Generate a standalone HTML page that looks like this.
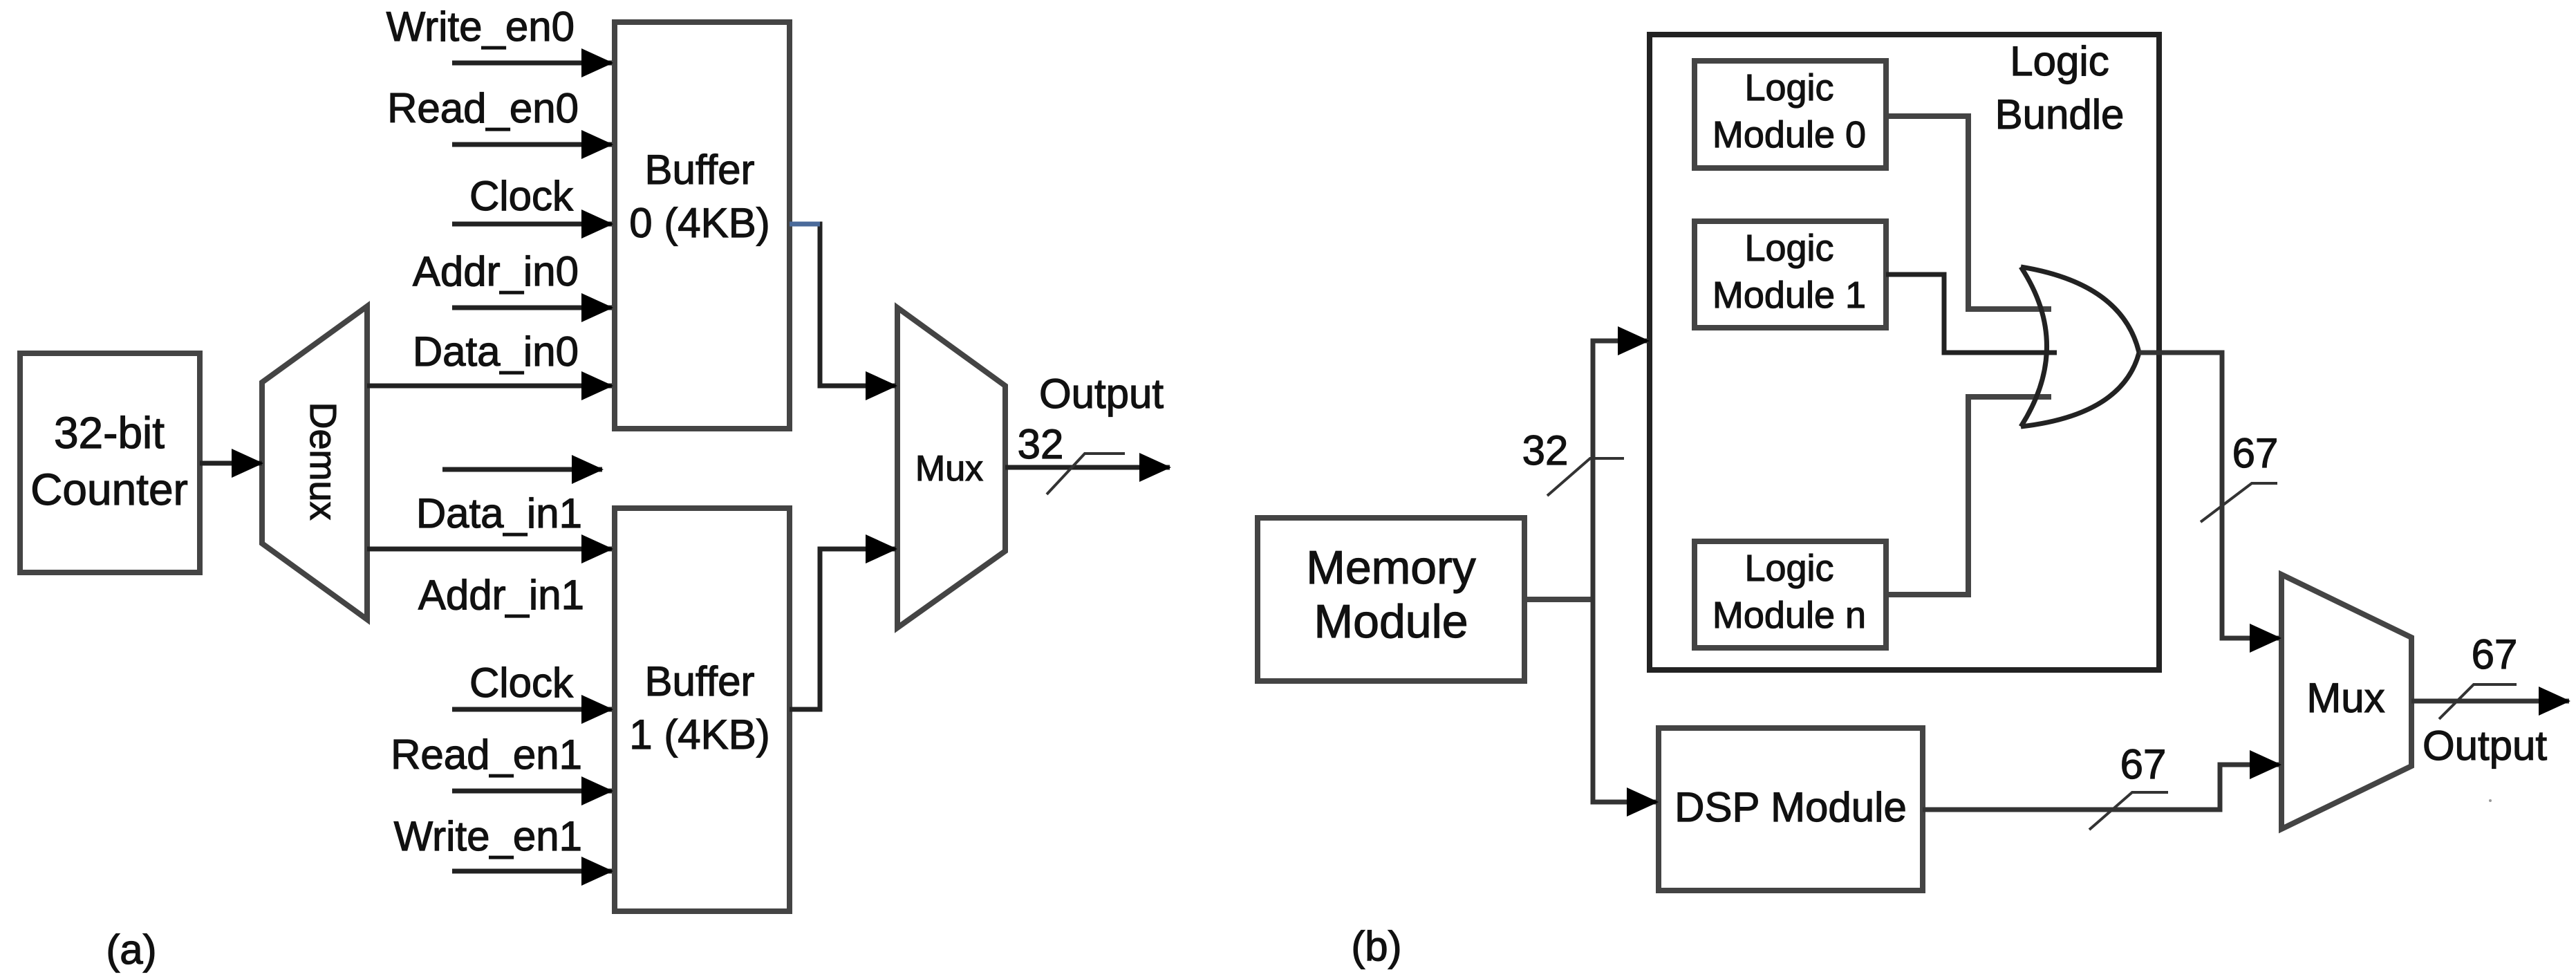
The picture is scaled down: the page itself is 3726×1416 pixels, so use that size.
<!DOCTYPE html>
<html><head><meta charset="utf-8"><style>html,body{margin:0;padding:0;background:#fff}svg{display:block}text{font-family:"Liberation Sans",sans-serif;fill:#111;stroke:#111;stroke-width:1.2}</style></head><body>
<svg width="3726" height="1416" viewBox="0 0 3726 1416" xmlns="http://www.w3.org/2000/svg">
<defs><marker id="a" markerUnits="userSpaceOnUse" markerWidth="46" markerHeight="42" refX="44" refY="21" orient="auto"><path d="M0,0 L46,21 L0,42 z" fill="#000"/></marker></defs>
<g fill="none" stroke="#444" stroke-width="8">
<rect x="29" y="511" width="260" height="317"/>
<polygon points="379,553 531,443 531,896 379,786"/>
<rect x="889" y="32" width="253" height="588"/>
<rect x="889" y="735" width="253" height="583"/>
<polygon points="1298,445 1454,558 1454,797 1298,908"/>
</g>
<g fill="none" stroke="#222" stroke-width="7" marker-end="url(#a)">
<line x1="289" y1="670" x2="379" y2="670"/>
<line x1="654" y1="91" x2="885" y2="91"/>
<line x1="654" y1="209" x2="885" y2="209"/>
<line x1="654" y1="324" x2="885" y2="324"/>
<line x1="654" y1="445" x2="885" y2="445"/>
<line x1="531" y1="558" x2="885" y2="558"/>
<line x1="640" y1="679" x2="871" y2="679"/>
<line x1="531" y1="794" x2="885" y2="794"/>
<line x1="654" y1="1026" x2="885" y2="1026"/>
<line x1="654" y1="1144" x2="885" y2="1144"/>
<line x1="654" y1="1260" x2="885" y2="1260"/>
<polyline points="1142,324 1186,324 1186,558 1296,558"/>
<polyline points="1142,1026 1186,1026 1186,794 1296,794"/>
<line x1="1454" y1="676" x2="1692" y2="676"/>
</g>
<line x1="1142" y1="324" x2="1186" y2="324" stroke="#4a6a9a" stroke-width="7"/>
<g stroke="#333" stroke-width="4" fill="none"><polyline points="1514,715 1569,656 1627,656"/></g>
<g font-size="60" text-anchor="end">
<text x="831" y="59">Write_en0</text>
<text x="837" y="177">Read_en0</text>
<text x="829" y="304">Clock</text>
<text x="837" y="413">Addr_in0</text>
<text x="837" y="529">Data_in0</text>
<text x="842" y="763">Data_in1</text>
<text x="845" y="881">Addr_in1</text>
<text x="829" y="1008">Clock</text>
<text x="842" y="1112">Read_en1</text>
<text x="842" y="1230">Write_en1</text>
</g>
<g font-size="60" text-anchor="middle">
<text x="158" y="648" font-size="64">32-bit</text>
<text x="158" y="730" font-size="64">Counter</text>
<text x="1012" y="266">Buffer</text>
<text x="1012" y="343">0 (4KB)</text>
<text x="1012" y="1006">Buffer</text>
<text x="1012" y="1083">1 (4KB)</text>
<text x="1373" y="695" font-size="52">Mux</text>
<text transform="translate(449,667) rotate(90)" font-size="54">Demux</text>
<text x="1593" y="590">Output</text>
<text x="1505" y="663">32</text>
<text x="190" y="1394">(a)</text>
</g>
<g fill="none" stroke="#444" stroke-width="8">
<rect x="2386" y="50" width="737" height="919" stroke="#222"/>
<rect x="2451" y="88" width="277" height="155"/>
<rect x="2451" y="320" width="277" height="154"/>
<rect x="2451" y="783" width="277" height="154"/>
<rect x="1819" y="749" width="386" height="236"/>
<rect x="2399" y="1053" width="382" height="235"/>
<polygon points="3300,831 3488,922 3488,1108 3300,1199"/>
<polyline points="2728,168 2847,168 2847,447 2967,447"/>
<polyline points="2728,860 2847,860 2847,574 2967,574"/>
<line x1="2205" y1="867" x2="2304" y2="867"/>
</g>
<g fill="none" stroke="#222" stroke-width="7">
<polyline points="2728,397 2812,397 2812,510 2975,510"/>
<path d="M2923,386 Q2998,500 2923,617"/>
<path d="M2923,386 Q3070,410 3094,510 Q3070,600 2923,617"/>
</g>
<g fill="none" stroke="#333" stroke-width="7" marker-end="url(#a)">
<polyline points="3094,510 3214,510 3214,923 3298,923"/>
<polyline points="2304,867 2304,493 2384,493"/>
<polyline points="2304,867 2304,1160 2397,1160"/>
<polyline points="2781,1171 3211,1171 3211,1106 3298,1106"/>
<line x1="3488" y1="1014" x2="3716" y2="1014"/>
</g>
<g stroke="#333" stroke-width="4" fill="none">
<polyline points="2238,717 2300,663 2349,663"/>
<polyline points="3183,755 3257,699 3294,699"/>
<polyline points="3022,1200 3084,1146 3136,1146"/>
<polyline points="3528,1040 3578,990 3640,990"/>
</g>
<g font-size="60" text-anchor="middle">
<text x="2979" y="109">Logic</text>
<text x="2979" y="186">Bundle</text>
<text x="2588" y="145" font-size="54">Logic</text>
<text x="2588" y="213" font-size="54">Module 0</text>
<text x="2588" y="377" font-size="54">Logic</text>
<text x="2588" y="445" font-size="54">Module 1</text>
<text x="2588" y="840" font-size="54">Logic</text>
<text x="2588" y="908" font-size="54">Module n</text>
<text x="2012" y="844" font-size="68">Memory</text>
<text x="2012" y="922" font-size="68">Module</text>
<text x="2590" y="1188">DSP Module</text>
<text x="3393" y="1030">Mux</text>
<text x="2235" y="672">32</text>
<text x="3262" y="676">67</text>
<text x="3100" y="1126">67</text>
<text x="3608" y="967">67</text>
<text x="3594" y="1099">Output</text>
<text x="1991" y="1389">(b)</text>
</g>
<circle cx="3602" cy="1158" r="2" fill="#999"/>
</svg>
</body></html>
